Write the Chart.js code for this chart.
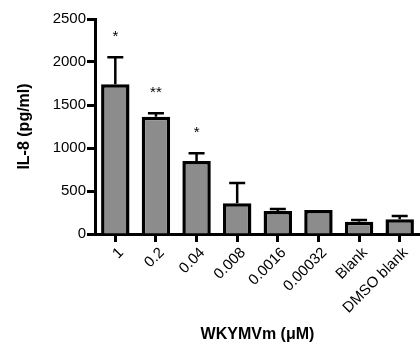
<!DOCTYPE html>
<html>
<head>
<meta charset="utf-8">
<script src="https://cdn.jsdelivr.net/npm/chart.js@4"></script>
<style>
  body { margin: 0; background: white; }
  #box { width: 420px; height: 351px; }
</style>
</head>
<body>
<div id="box"><canvas id="myChart"></canvas></div>
<script>
// data
const doses = ['1', '0.2', '0.04', '0.008', '0.0016', '0.00032', 'Blank', 'DMSO blank'];
const il8 = [1741, 1364, 849, 357, 267, 279, 143, 171];
const il8Sd = [313, 39, 89, 236, 24, 0, 20, 38];
const stars = ['*', '**', '*', '', '', '', '', ''];
const yTicks = [0, 500, 1000, 1500, 2000, 2500];

const fontName = '"Liberation Sans", Arial, sans-serif';

// error bars (upper only) + significance stars
const errPlugin = {
    id: 'errPlugin',
    afterDatasetsDraw(chart) {
        const ctx = chart.ctx;
        const y = chart.scales.y;
        const bars = chart.getDatasetMeta(0).data;
        ctx.save();
        ctx.strokeStyle = 'black';
        ctx.lineWidth = 2.5;
        for (let i = 0; i < bars.length; i++) {
            let x = bars[i].x;
            let top = y.getPixelForValue(il8[i]);
            let hi = y.getPixelForValue(il8[i] + il8Sd[i]);
            if (il8Sd[i] > 0) {
                ctx.beginPath();
                ctx.moveTo(x, top);
                ctx.lineTo(x, hi);
                ctx.moveTo(x - 8, hi);
                ctx.lineTo(x + 8, hi);
                ctx.stroke();
            }
            if (stars[i]) {
                ctx.fillStyle = 'black';
                ctx.font = '15px ' + fontName;
                ctx.textAlign = 'center';
                ctx.textBaseline = 'middle';
                ctx.fillText(stars[i], x, hi - 20);
            }
        }
        ctx.restore();
    }
};

const data = {
    labels: doses,
    datasets: [{
        data: il8,
        backgroundColor: '#8c8c8c',
        borderColor: 'black',
        borderWidth: 3.5,
        barPercentage: 0.7,
        categoryPercentage: 1
    }]
};

const config = {
    type: 'bar',
    data: data,
    options: {
        responsive: true,
        maintainAspectRatio: false,
        animation: false,
        layout: { padding: { top: 19, right: 0, left: 15, bottom: 0 } },
        plugins: {
            legend: { display: false },
            tooltip: { enabled: false }
        },
        scales: {
            x: {
                offset: true,
                grid: { display: true, offset: false, drawOnChartArea: false, drawTicks: true, tickLength: 8, tickColor: 'black', tickWidth: 3 },
                border: { color: 'black', width: 3 },
                ticks: {
                    color: 'black',
                    font: { family: fontName, size: 15 },
                    minRotation: 45, maxRotation: 45,
                    autoSkip: false,
                    labelOffset: 6,
                    padding: 2
                },
                title: {
                    display: true,
                    text: 'WKYMVm (\u03bcM)',
                    color: 'black',
                    font: { family: fontName, size: 16, weight: 'bold' },
                    padding: { top: 0, bottom: 7 }
                },
                afterFit(scale) { scale.height = 117; }
            },
            y: {
                min: 0,
                max: 2500,
                afterBuildTicks(scale) { scale.ticks = yTicks.map(v => ({ value: v })); },
                grid: { display: true, drawOnChartArea: false, drawTicks: true, tickLength: 8, tickColor: 'black', tickWidth: 3 },
                border: { color: 'black', width: 3 },
                ticks: {
                    color: 'black',
                    font: { family: fontName, size: 15 },
                    padding: 1,
                    callback: (v) => String(v)
                },
                title: {
                    display: true,
                    text: 'IL-8 (pg/ml)',
                    color: 'black',
                    font: { family: fontName, size: 16, weight: 'bold' },
                    padding: { top: 0, bottom: 0 }
                },
                afterFit(scale) { scale.width = 80; }
            }
        }
    },
    plugins: [errPlugin]
};

let myChart = new Chart(document.getElementById('myChart').getContext('2d'), config);
</script>
</body>
</html>
